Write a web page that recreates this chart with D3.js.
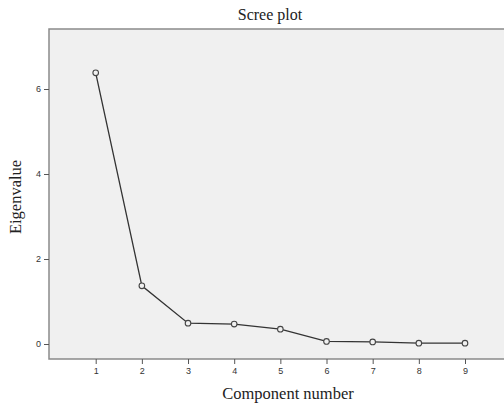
<!DOCTYPE html>
<html><head><meta charset="utf-8">
<script src="https://cdn.jsdelivr.net/npm/d3@7/dist/d3.min.js"></script>
<style>body{margin:0;background:#fff;}</style>
</head><body>
<svg id="c" width="504" height="404"></svg>
<script>
const components = [1,2,3,4,5,6,7,8,9];
const eigenvalues = [6.38,1.37,0.49,0.47,0.35,0.06,0.05,0.02,0.02];
const yTicks = [0,2,4,6];
const title = "Scree plot";
const xLabel = "Component number";
const yLabel = "Eigenvalue";

const svg = d3.select("#c");
const pLeft = 49, pTop = 29, pRight = 506, pBottom = 359;

const x = d3.scaleLinear().domain([1, 9]).range([95.7, 465]);
const y = d3.scaleLinear().domain([0, 6]).range([344, 89]);

svg.append("rect").attr("x", pLeft).attr("y", pTop).attr("width", pRight-pLeft).attr("height", pBottom-pTop)
  .attr("fill", "#f0f0f0").attr("stroke", "#8a8a8a").attr("stroke-width", 1.5);

const ya = svg.append("g").attr("transform", `translate(${pLeft},0)`)
  .call(d3.axisLeft(y).tickValues(yTicks).tickFormat(d3.format("d")).tickSize(5).tickPadding(3));
ya.select(".domain").remove();
ya.selectAll("line").attr("stroke", "#555");
ya.selectAll("text").attr("font-family", "Liberation Sans, Arial, sans-serif").attr("font-size", 9).attr("fill", "#333");

const xa = svg.append("g").attr("transform", `translate(0,${pBottom})`)
  .call(d3.axisBottom(x).tickValues(components).tickFormat(d3.format("d")).tickSize(5).tickPadding(4));
xa.select(".domain").remove();
xa.selectAll("line").attr("stroke", "#555");
xa.selectAll("text").attr("font-family", "Liberation Sans, Arial, sans-serif").attr("font-size", 9).attr("fill", "#333");

const line = d3.line().x((d,i)=>x(components[i])).y(d=>y(d));
svg.append("path").datum(eigenvalues).attr("d", line)
  .attr("fill", "none").attr("stroke", "#333").attr("stroke-width", 1.3);

svg.selectAll("circle.pt").data(eigenvalues).enter().append("circle")
  .attr("class","pt")
  .attr("cx", (d,i)=>x(components[i])).attr("cy", d=>y(d)).attr("r", 2.8)
  .attr("fill", "#f0f0f0").attr("stroke", "#444").attr("stroke-width", 1.1);

svg.append("text").attr("x", 270).attr("y", 20).attr("text-anchor","middle")
  .attr("font-family","Liberation Serif, Times New Roman, serif").attr("font-size", 16).attr("fill","#222").text(title);
svg.append("text").attr("x", 288).attr("y", 399).attr("text-anchor","middle")
  .attr("font-family","Liberation Serif, Times New Roman, serif").attr("font-size", 16.5).attr("fill","#222").text(xLabel);
svg.append("text").attr("transform","translate(21,197) rotate(-90)").attr("text-anchor","middle")
  .attr("font-family","Liberation Serif, Times New Roman, serif").attr("font-size", 16.5).attr("fill","#222").text(yLabel);
</script>
</body></html>
